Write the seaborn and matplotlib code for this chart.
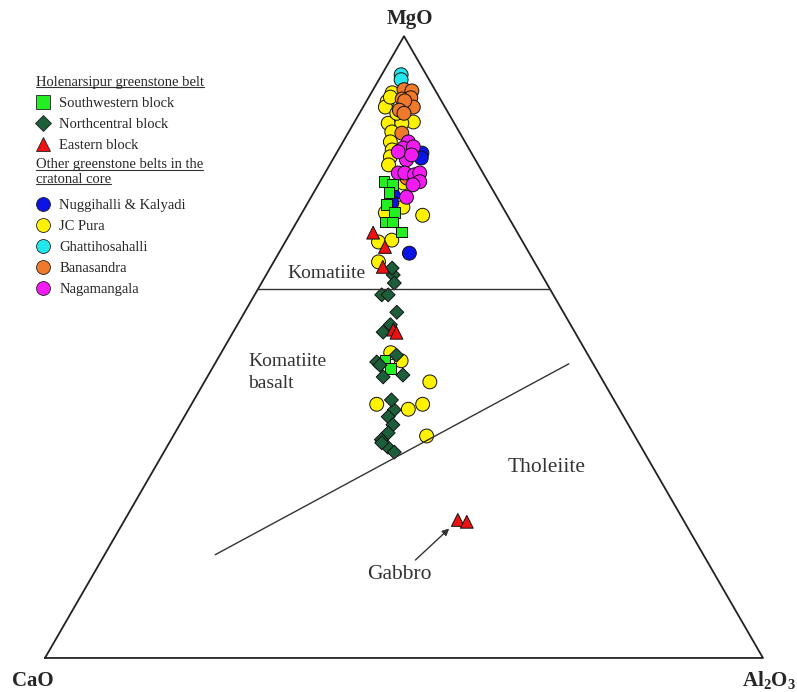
import numpy as np
import pandas as pd
import seaborn as sns
import matplotlib.pyplot as plt
from matplotlib.lines import Line2D

# Jensen-type cation plot, values in % (CaO = 100 - MgO - Al2O3)
sw_mgo = [76.6, 76.1, 74.8, 72.9, 71.6, 70.1, 70.1, 68.5, 47.9, 46.6]
sw_al2o3 = [8.9, 10.4, 10.5, 11.1, 12.9, 12.3, 13.4, 15.4, 23.4, 24.8]

nc_mgo = [61.6, 60.3, 58.4, 58.4, 55.6, 53.6, 52.4, 47.6, 47.1, 45.2, 45.5,
          39.9, 38.8, 37.5, 36.2, 35.1, 33.9, 33.1, 34.6, 62.7, 48.7, 41.5]
nc_al2o3 = [17.7, 18.5, 17.7, 18.6, 21.2, 21.3, 20.9, 22.4, 23.1, 24.5, 27.1,
            28.7, 28.4, 29.7, 29.7, 29.3, 30.8, 32.1, 29.6, 17.0, 24.6, 27.5]

eb_mgo = [68.4, 66.1, 62.9, 52.8, 52.3, 22.2, 21.9]
eb_al2o3 = [11.5, 14.3, 15.6, 22.1, 22.8, 46.4, 47.8]

nk_mgo = [81.2, 80.4, 74.5, 73.2, 65.1]
nk_al2o3 = [11.9, 12.2, 11.2, 11.7, 18.2]

jc_mgo = [90.9, 89.5, 88.6, 90.2, 86.2, 86.0, 86.0, 84.6, 83.0, 81.7, 80.6, 79.3,
          76.4, 71.6, 72.5, 71.2, 66.9, 67.2, 63.7, 49.1, 47.8, 44.4, 40.8, 40.0,
          40.8, 35.7, 87.6]
jc_al2o3 = [2.9, 2.9, 3.1, 3.0, 8.2, 4.8, 6.7, 6.0, 6.6, 7.5, 7.8, 8.2,
            11.7, 11.6, 13.6, 17.0, 13.0, 14.7, 14.6, 23.6, 25.7, 31.4, 25.8, 30.6,
            32.2, 35.3, 5.2]

gh_mgo = [93.8, 93.0]
gh_al2o3 = [2.7, 3.1]

bn_mgo = [91.4, 91.2, 89.9, 90.1, 88.6, 89.6, 88.1, 87.6, 84.4, 77.2]
bn_al2o3 = [4.3, 5.5, 4.8, 5.9, 7.0, 5.3, 5.3, 6.2, 7.5, 11.8]

ng_mgo = [83.0, 82.0, 82.2, 80.1, 78.0, 78.0, 77.7, 78.0, 76.6, 76.1, 74.1, 81.4, 80.9]
ng_al2o3 = [9.1, 8.9, 10.2, 10.3, 10.2, 11.1, 12.6, 13.2, 13.9, 13.2, 13.3, 8.5, 10.6]

# field boundaries
kom_mgo = [59.3, 59.3]
kom_al2o3 = [0.0, 40.7]
thol_mgo = [16.6, 47.3]
thol_al2o3 = [15.4, 49.3]


def tern_xy(mgo, al2o3):
    m = np.asarray(mgo) / 100.0
    a = np.asarray(al2o3) / 100.0
    return a + m / 2, m * np.sqrt(3) / 2


groups = [
    ("JC Pura", jc_mgo, jc_al2o3),
    ("Ghattihosahalli", gh_mgo, gh_al2o3),
    ("Banasandra", bn_mgo, bn_al2o3),
    ("Nuggihalli & Kalyadi", nk_mgo, nk_al2o3),
    ("Nagamangala", ng_mgo, ng_al2o3),
    ("Southwestern block", sw_mgo, sw_al2o3),
    ("Northcentral block", nc_mgo, nc_al2o3),
    ("Eastern block", eb_mgo, eb_al2o3),
]
frames = []
for name, mg, al in groups:
    x, y = tern_xy(mg, al)
    frames.append(pd.DataFrame({"x": x, "y": y, "group": name}))
df = pd.concat(frames, ignore_index=True)

colors = {
    "Southwestern block": "#22ee22",
    "Northcentral block": "#1d5e3a",
    "Eastern block": "#ee1111",
    "Nuggihalli & Kalyadi": "#0a14e6",
    "JC Pura": "#fff200",
    "Ghattihosahalli": "#22e8ee",
    "Banasandra": "#ef7a2c",
    "Nagamangala": "#f21cf2",
}
markers = {k: "o" for k in colors}
markers.update({"Southwestern block": "s", "Northcentral block": "D", "Eastern block": "^"})
sizes = {k: 100 for k in colors}
sizes.update({"Southwestern block": 60, "Northcentral block": 50, "Eastern block": 85})

sns.set_theme(style="white")
plt.rcParams["font.family"] = ["Liberation Serif", "DejaVu Serif"]
plt.rcParams["mathtext.fontset"] = "custom"
plt.rcParams["mathtext.bf"] = "Liberation Serif:bold"
plt.rcParams["mathtext.rm"] = "Liberation Serif"

fig = plt.figure(figsize=(7.97, 6.92), dpi=100)
ax = fig.add_axes([0, 0, 1, 1])

# triangle frame and field boundaries
h = np.sqrt(3) / 2
ax.plot([0, 1, 0.5, 0], [0, 0, h, 0], color="#222222", lw=1.3)
kx, ky = tern_xy(kom_mgo, kom_al2o3)
ax.plot(kx, ky, color="#333333", lw=1.0)
tx, ty = tern_xy(thol_mgo, thol_al2o3)
ax.plot(tx, ty, color="#333333", lw=1.0)

sns.scatterplot(data=df, x="x", y="y", hue="group", style="group", size="group",
                palette=colors, markers=markers, sizes=sizes,
                edgecolor="#111111", linewidth=0.7, legend=False, ax=ax)

ax.set_xlim(-0.0627, 1.0474)
ax.set_ylim(-0.0474, 0.9164)
ax.set_aspect("equal")
ax.axis("off")

# apex labels
ax.annotate("MgO", (0.5, h), xytext=(4, 12.5), textcoords="offset points",
            ha="center", va="center", fontsize=15, fontweight="bold")
ax.annotate("CaO", (0, 0), xytext=(-9, -16.5), textcoords="offset points",
            ha="center", va="center", fontsize=15, fontweight="bold")
ax.annotate(r"$\mathbf{Al_2O_3}$", (1, 0), xytext=(4, -16), textcoords="offset points",
            ha="center", va="center", fontsize=15)

# field labels
lab_kw = dict(color="#333333")
ax.text(0.338, 0.535, "Komatiite", ha="left", va="center", fontsize=14, **lab_kw)
ax.text(0.283, 0.398, "Komatiite\nbasalt", ha="left", va="center", linespacing=1.4,
        fontsize=14, **lab_kw)
ax.text(0.698, 0.265, "Tholeiite", ha="center", va="center", fontsize=15.5, **lab_kw)
gx, gy = tern_xy([eb_mgo[5]], [eb_al2o3[5]])
ax.annotate("Gabbro", xy=(gx[0] - 0.012, gy[0] - 0.012), xytext=(0.494, 0.116),
            ha="center", va="center", fontsize=15.5, **lab_kw,
            arrowprops=dict(arrowstyle="-|>", color="#333333", lw=1.0,
                            mutation_scale=10, shrinkA=2, shrinkB=0))


def handle(name):
    ms = {"o": 10, "s": 10, "D": 8.5, "^": 10}[markers[name]]
    return Line2D([], [], linestyle="none", marker=markers[name], markersize=ms,
                  markerfacecolor=colors[name], markeredgecolor="#222222",
                  markeredgewidth=0.6)


hol = ["Southwestern block", "Northcentral block", "Eastern block"]
oth = ["Nuggihalli & Kalyadi", "JC Pura", "Ghattihosahalli", "Banasandra", "Nagamangala"]
leg_kw = dict(loc="upper left", frameon=False, fontsize=10.5, title_fontsize=10.5,
              alignment="left", borderpad=0, borderaxespad=0, handlelength=0.95,
              handletextpad=0.65, labelspacing=0.54)
leg1 = fig.legend([handle(n) for n in hol], hol, title="Holenarsipur greenstone belt",
                  bbox_to_anchor=(36 / 797, 1 - 76 / 692), **leg_kw)
leg2 = fig.legend([handle(n) for n in oth], oth,
                  title="Other greenstone belts in the\ncratonal core",
                  bbox_to_anchor=(36 / 797, 1 - 158 / 692), **leg_kw)
# a bit more room under the two-line heading
leg2._legend_box.sep += 3.5

# underline legend headings
fig.canvas.draw()
r = fig.canvas.get_renderer()
W, H = fig.bbox.width, fig.bbox.height
for leg in (leg1, leg2):
    t = leg.get_title()
    bb = t.get_window_extent(r)
    lines = t.get_text().split("\n")
    lh = bb.height / len(lines)
    for i, line in enumerate(lines):
        tmp = fig.text(0, 0, line, fontsize=10.5)
        w = tmp.get_window_extent(r).width
        tmp.remove()
        yline = bb.y1 - (i + 1) * lh + 2
        fig.add_artist(Line2D([bb.x0 / W, (bb.x0 + w) / W], [yline / H, yline / H],
                              transform=fig.transFigure, color="#333333", lw=0.8))

fig.savefig("out.png", dpi=100)
